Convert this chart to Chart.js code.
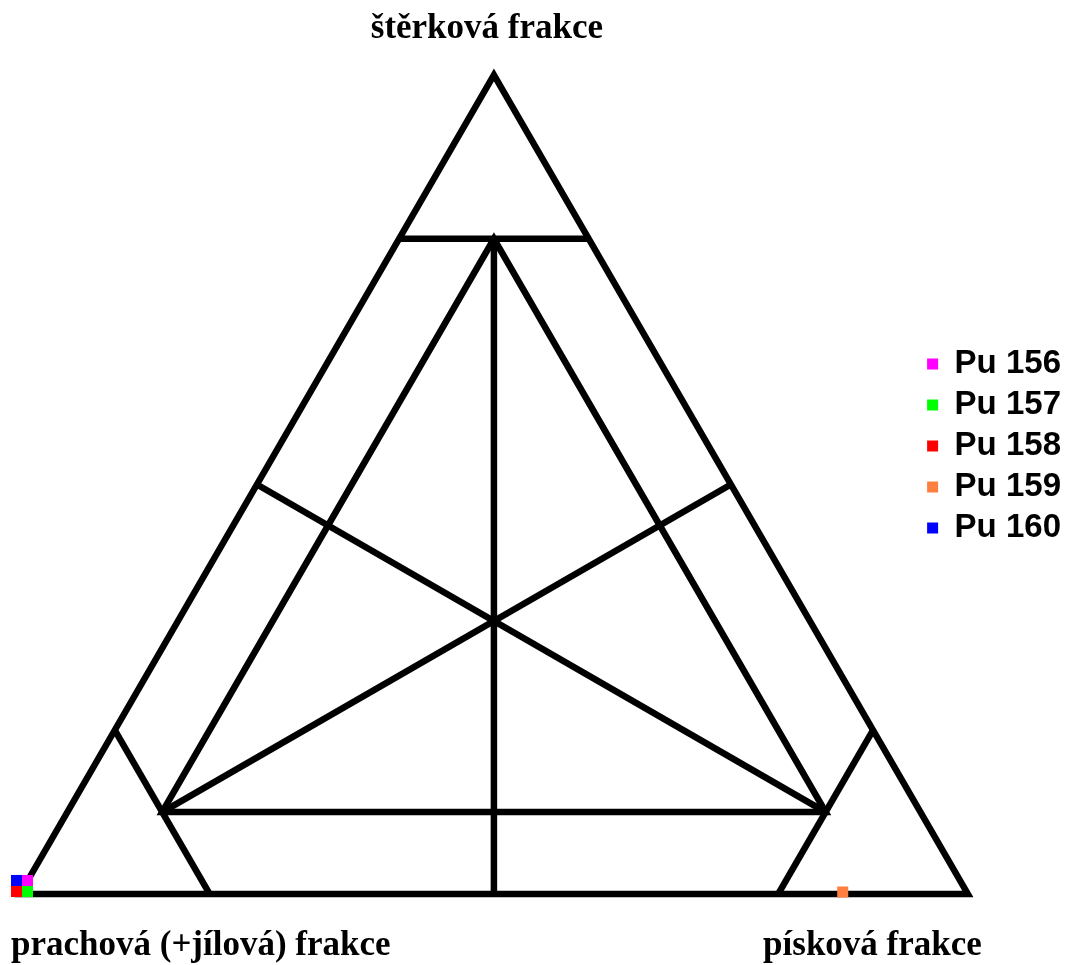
<!DOCTYPE html>
<html>
<head>
<meta charset="utf-8">
<title>Trojúhelníkový diagram</title>
<script src="https://cdn.jsdelivr.net/npm/chart.js@4/dist/chart.umd.min.js"></script>
<style>
  body { margin: 0; background: #fff; }
  #wrap { width: 1071px; height: 965px; }
</style>
</head>
<body>
<div id="wrap"><canvas id="ternary" width="1071" height="965"></canvas></div>
<script>
// corner names of the ternary plot
const cornerGravel = "štěrková frakce";
const cornerSilt = "prachová (+jílová) frakce";
const cornerSand = "písková frakce";

// samples, given in plot plane units (x along the base 0..100, y = height)
const samples = ["Pu 156", "Pu 157", "Pu 158", "Pu 159", "Pu 160"];
const sampleX = [0.79, 0.79, -0.37, 86.8, -0.37];
const sampleY = [1.43, 0.26, 0.26, 0.21, 1.43];
const sampleColors = ["#ff00ff", "#00ff00", "#ff0000", "#ff7f40", "#0000ff"];

// classification lines, each vertex as [sand %, gravel %] (silt is the rest)
const outline = [[50, 0], [100, 0], [0, 100], [0, 0], [50, 0]];
const gravel80 = [[0, 80], [20, 80]];
const innerTriangle = [[45, 10], [80, 10], [10, 80], [10, 10], [45, 10]];
const silt80 = [[0, 20], [20, 0]];
const sand80 = [[80, 20], [80, 0]];
const leftDiagonal = [[0, 50], [80, 10]];
const rightDiagonal = [[50, 50], [10, 10]];
const middleLine = [[10, 80], [50, 0]];

const H = Math.sqrt(3) / 2;
const toPlane = ([sand, gravel]) => ({ x: sand + gravel / 2, y: gravel * H });

const frameLines = [outline, gravel80, innerTriangle, silt80, sand80,
  leftDiagonal, rightDiagonal, middleLine];

const pointSets = samples.map((name, i) => ({
  label: name,
  data: [{ x: sampleX[i], y: sampleY[i] }],
  backgroundColor: sampleColors[i],
  borderColor: sampleColors[i],
  borderWidth: 0,
  pointBorderWidth: 0,
  pointStyle: "rect",
  pointRadius: 7.8,
  clip: false
}));

const lineSets = frameLines.map(line => ({
  label: "",
  isFrame: true,
  data: line.map(toPlane),
  showLine: true,
  borderColor: "#000",
  borderWidth: 6.5,
  borderJoinStyle: "miter",
  pointRadius: 0,
  fill: false,
  clip: false
}));

// labels at the three corners of the triangle
const cornerLabels = {
  id: "cornerLabels",
  afterDraw(chart) {
    const { ctx, scales: { x, y } } = chart;
    const apex = toPlane([0, 100]);
    const left = toPlane([0, 0]);
    const right = toPlane([100, 0]);
    ctx.save();
    ctx.fillStyle = "#000";
    ctx.font = "bold 35px 'Liberation Serif', 'Times New Roman', serif";
    ctx.textBaseline = "alphabetic";
    ctx.textAlign = "center";
    ctx.fillText(cornerGravel, x.getPixelForValue(apex.x) - 7, y.getPixelForValue(apex.y) - 37);
    ctx.textAlign = "left";
    ctx.fillText(cornerSilt, x.getPixelForValue(left.x) - 9, y.getPixelForValue(left.y) + 61);
    ctx.textAlign = "right";
    ctx.fillText(cornerSand, x.getPixelForValue(right.x) + 14, y.getPixelForValue(right.y) + 61);
    ctx.restore();
  }
};

new Chart(document.getElementById("ternary"), {
  type: "scatter",
  data: { datasets: [...pointSets, ...lineSets] },
  options: {
    responsive: false,
    animation: false,
    events: [],
    layout: { autoPadding: false, padding: { top: 0, bottom: 73, left: 0, right: 0 } },
    scales: {
      x: { type: "linear", min: -2.11, max: 94.86, display: false },
      y: { type: "linear", min: 0.211, max: 94.53, display: false }
    },
    plugins: {
      tooltip: { enabled: false },
      legend: {
        position: "right",
        align: "center",
        labels: {
          filter: (item, data) => !data.datasets[item.datasetIndex].isFrame,
          boxWidth: 11,
          boxHeight: 11,
          padding: 8,
          color: "#000",
          font: { family: "'Liberation Sans', Arial, sans-serif", size: 33, weight: "bold" }
        }
      }
    }
  },
  plugins: [cornerLabels]
});
</script>
</body>
</html>
